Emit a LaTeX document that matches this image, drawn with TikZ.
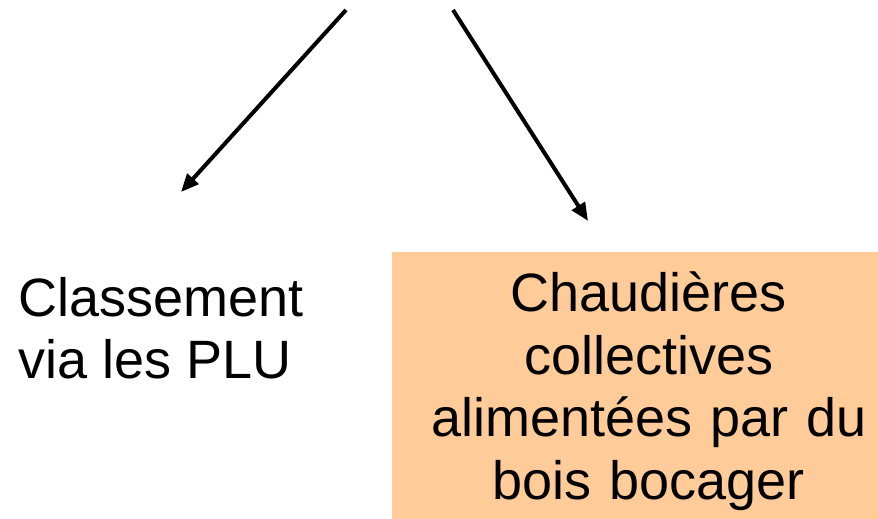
\documentclass[tikz,border=0pt]{standalone}
\usepackage{fontspec}
\setmainfont{Liberation Sans}
\usetikzlibrary{arrows.meta}
\definecolor{peach}{RGB}{255,204,153}
\tikzset{
  link/.style={line width=4pt, -{Triangle[length=18pt,width=15pt]}},
  bigtext/.style={font=\fontsize{54}{62.5}\selectfont}
}
\begin{document}
\begin{tikzpicture}[x=1pt, y=-1pt]
  \useasboundingbox (0,0) rectangle (878,519);
  \coordinate (from-l) at (346,10);
  \coordinate (to-l) at (181,192);
  \coordinate (from-r) at (453,10);
  \coordinate (to-r) at (588,221);
  \node (plu) [bigtext, anchor=north west, inner sep=0, align=left] at (18,277)
        {Classement\\via les PLU};
  \node (boiler) [bigtext, fill=peach, anchor=north west, text width=513pt, inner xsep=0,
        inner ysep=20pt, align=center] at (392,252)
        {Chaudières\\collectives\\alimentées par du\\bois bocager};
  \draw [link] (from-l) -- (to-l);
  \draw [link] (from-r) -- (to-r);
\end{tikzpicture}
\end{document}
